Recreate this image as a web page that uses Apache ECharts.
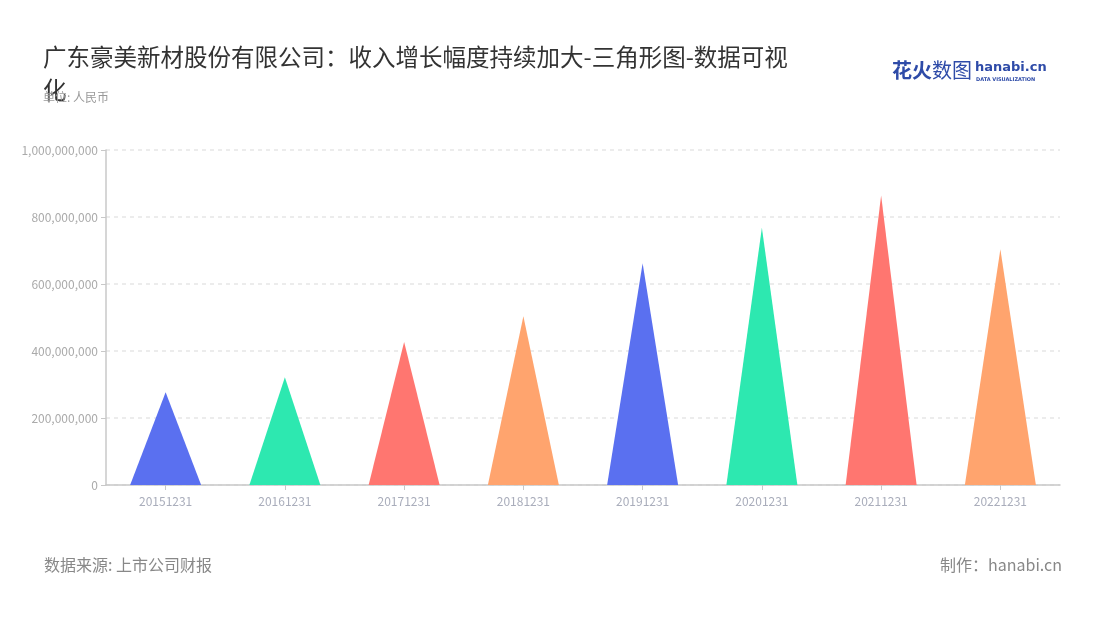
<!DOCTYPE html>
<html>
<head>
<meta charset="utf-8">
<script src="https://cdn.jsdelivr.net/npm/echarts@6/dist/echarts.min.js"></script>
<style>
html,body{margin:0;padding:0;background:#fff;}
#main{width:1100px;height:620px;}
</style>
</head>
<body>
<div id="main"></div>
<script>
var categories = ['20151231','20161231','20171231','20181231','20191231','20201231','20211231','20221231'];
var revenue = [277000000, 322000000, 427000000, 504000000, 662000000, 768000000, 864000000, 704000000];
var colors = ['#5A70F0','#2DE8B0','#FF7670','#FFA46E'];
var yTicks = [0, 200000000, 400000000, 600000000, 800000000, 1000000000];

var chart = echarts.init(document.getElementById('main'));
var font = '"Noto Sans CJK SC", "Noto Sans", sans-serif';
chart.setOption({
  backgroundColor: '#fff',
  textStyle: { fontFamily: font },
  title: [{
    text: '广东豪美新材股份有限公司：收入增长幅度持续加大-三角形图-数据可视化',
    left: 38, top: 36,
    textStyle: { fontSize: 23.5, fontWeight: 'normal', color: '#333', fontFamily: font, width: 755, overflow: 'break', lineHeight: 33 }
  }, {
    text: '单位: 人民币',
    left: 38, top: 86,
    textStyle: { fontSize: 12, fontWeight: 'normal', color: '#999', fontFamily: font }
  }],
  grid: { left: 106, right: 40, top: 150, bottom: 135, containLabel: false },
  xAxis: {
    type: 'category',
    data: categories,
    axisLine: { lineStyle: { color: '#c8c8c8', width: 1.5 } },
    axisTick: { show: true, alignWithLabel: true, lineStyle: { color: '#c8c8c8' } },
    axisLabel: { color: '#a9adbb', fontSize: 12, margin: 10, fontFamily: font }
  },
  yAxis: {
    type: 'value',
    min: yTicks[0], max: yTicks[yTicks.length - 1], interval: yTicks[1] - yTicks[0],
    axisLine: { show: true, lineStyle: { color: '#c8c8c8', width: 1.5 } },
    axisTick: { show: true, lineStyle: { color: '#c8c8c8' } },
    axisLabel: {
      color: '#aaaaaa', fontSize: 12, fontFamily: font,
      formatter: function (v) { return v.toLocaleString('en-US'); }
    },
    splitLine: { show: true, lineStyle: { color: '#e6e6e6', type: [4, 4], width: 1.5 } }
  },
  series: [{
    type: 'pictorialBar',
    symbol: 'triangle',
    symbolSize: [71, '100%'],
    barCategoryGap: '40%',
    data: revenue.map(function (v, i) {
      return { value: v, itemStyle: { color: colors[i % colors.length] } };
    })
  }],
  graphic: [
    { type: 'text', left: 892, top: 60, style: { text: '花火', fill: '#2E4BA8', font: 'bold 20px ' + font } },
    { type: 'text', left: 932, top: 60, style: { text: '数图', fill: '#2E4BA8', font: 'normal 20px ' + font } },
    { type: 'text', left: 975, top: 61, style: { text: 'hanabi.cn', fill: '#2E4BA8', font: 'bold 13px "DejaVu Sans", sans-serif' } },
    { type: 'text', left: 976, top: 77, style: { text: 'DATA VISUALIZATION', fill: '#2E4BA8', font: 'bold 5px "DejaVu Sans", sans-serif' } },
    { type: 'text', left: 44, top: 557, style: { text: '数据来源: 上市公司财报', fill: '#888888', font: 'normal 16px ' + font } },
    { type: 'text', right: 38, top: 557, style: { text: '制作：hanabi.cn', fill: '#888888', font: 'normal 16px ' + font } }
  ]
});
</script>
</body>
</html>
